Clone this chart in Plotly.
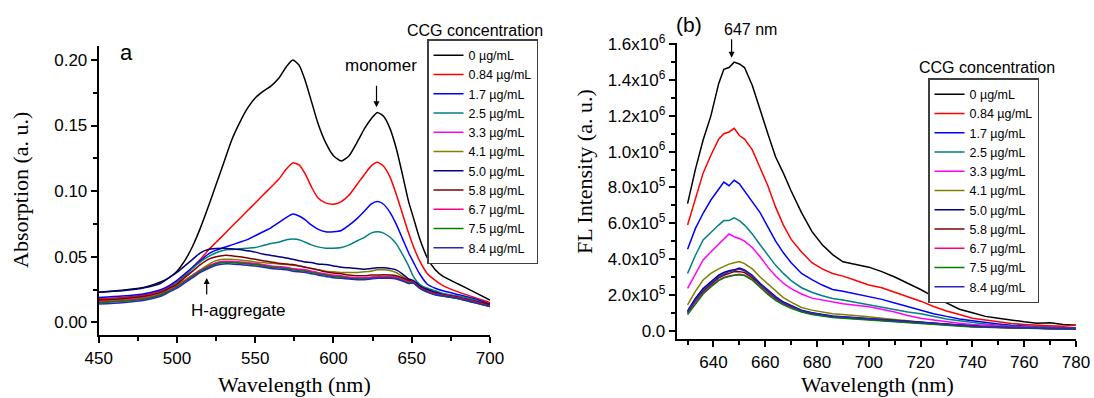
import plotly.graph_objects as go

# ---------------- data ----------------
labels = ["0 µg/mL", "0.84 µg/mL", "1.7 µg/mL", "2.5 µg/mL", "3.3 µg/mL", "4.1 µg/mL",
          "5.0 µg/mL", "5.8 µg/mL", "6.7 µg/mL", "7.5 µg/mL", "8.4 µg/mL"]
colors = ["#000000", "#FF0000", "#0000FF", "#008080", "#FF00FF", "#808000",
          "#000080", "#800000", "#FF0080", "#008000", "#2828B8"]

wl_abs = [450, 465, 480, 490, 495, 500, 505, 510, 515, 520, 525, 530, 535, 540, 545, 550,
          555, 560, 565, 570, 574, 578, 582, 586, 590, 595, 600, 605, 610, 615, 620, 624,
          628, 632, 636, 640, 644, 648, 651, 655, 660, 665, 670, 680, 690, 700]

abs_0 = [.023, .0245, .027, .031, .034, .039, .047, .058, .072, .088, .105, .122, .139, .152, .163, .171,
         .176, .180, .186, .195, .200, .196, .184, .168, .152, .137, .127, .123, .127, .137, .148, .155,
         .160, .157, .148, .133, .113, .092, .080, .064, .049, .040, .035, .029, .023, .017]
abs_084 = [.018, .019, .021, .024, .027, .031, .036, .042, .048, .055, .061, .067, .073, .079, .085, .091,
           .097, .103, .109, .117, .1215, .120, .113, .103, .095, .091, .090, .092, .097, .105, .113, .119,
           .122, .119, .111, .098, .083, .068, .058, .047, .037, .032, .028, .023, .019, .015]
abs_17 = [.019, .020, .022, .025, .028, .032, .037, .042, .047, .052, .055, .057, .059, .061, .063, .066,
          .069, .072, .076, .080, .0825, .081, .078, .074, .071, .069, .069, .070, .074, .079, .085, .090,
          .092, .090, .084, .075, .064, .053, .046, .037, .029, .026, .024, .021, .018, .014]
abs_25 = [.017, .018, .020, .023, .026, .030, .035, .041, .046, .050, .053, .055, .0555, .056, .0565, .057,
          .0585, .060, .061, .063, .0635, .063, .061, .059, .0575, .0565, .0565, .057, .059, .062, .065, .068,
          .069, .068, .065, .060, .052, .043, .035, .029, .026, .024, .022, .020, .017, .013]
abs_33 = [.016, .017, .019, .022, .025, .028, .032, .036, .040, .043, .0455, .0465, .0465, .046, .0455, .045,
          .044, .043, .0425, .042, .041, .0405, .040, .039, .038, .037, .036, .0355, .0345, .034, .034, .0345,
          .035, .035, .035, .0345, .033, .031, .031, .027, .024, .022, .021, .019, .016, .013]
abs_41 = [.016, .017, .019, .022, .025, .028, .032, .036, .040, .044, .047, .048, .048, .0475, .047, .046,
          .0455, .045, .0445, .044, .0435, .043, .042, .041, .040, .039, .0385, .038, .038, .038, .0385, .039,
          .040, .040, .0395, .038, .035, .032, .031, .027, .024, .022, .020, .018, .015, .012]
abs_50 = [.023, .024, .0265, .030, .034, .038, .043, .048, .053, .0555, .0562, .0565, .056, .0555, .0545, .0535,
          .052, .051, .050, .049, .048, .047, .046, .0455, .0445, .044, .043, .042, .0415, .041, .0405, .041,
          .0415, .0415, .041, .040, .037, .033, .032, .028, .025, .023, .021, .019, .016, .013]
abs_58 = [.017, .018, .020, .023, .026, .029, .034, .039, .044, .048, .050, .051, .0508, .050, .049, .048,
          .047, .046, .045, .0445, .044, .043, .042, .041, .040, .0385, .0375, .037, .036, .0355, .0355, .036,
          .036, .0362, .036, .0355, .034, .032, .031, .027, .024, .022, .021, .019, .016, .014]
abs_67 = [.0155, .0165, .0185, .0215, .0245, .0275, .0315, .0355, .0395, .0425, .045, .046, .046, .0455, .045, .0445,
          .0435, .0425, .042, .0415, .0405, .040, .0395, .0385, .0375, .0365, .0355, .035, .034, .0335, .0335, .034,
          .0345, .0345, .0345, .034, .0325, .0305, .0305, .0265, .0235, .0215, .0205, .0185, .0155, .0125]
abs_75 = [.015, .016, .018, .021, .024, .027, .031, .035, .039, .042, .0445, .0455, .0455, .045, .0445, .044,
          .043, .042, .0415, .041, .040, .0395, .039, .038, .037, .036, .035, .0345, .0335, .033, .033, .0335,
          .034, .034, .034, .0335, .032, .030, .030, .026, .023, .021, .020, .018, .015, .012]
abs_84 = [.014, .015, .017, .020, .023, .026, .030, .034, .038, .041, .0435, .0445, .0445, .044, .0435, .043,
          .042, .041, .0405, .040, .039, .0385, .038, .037, .036, .035, .034, .0335, .033, .0325, .0325, .033,
          .0335, .0335, .0335, .033, .0315, .0295, .030, .026, .023, .021, .020, .018, .015, .012]

wl_fl = [630, 633, 636, 639, 642, 644, 646, 648, 650, 652, 655, 658, 661, 664, 667, 670, 674, 678, 682,
         686, 690, 695, 700, 705, 710, 715, 720, 725, 730, 735, 740, 745, 750, 755, 760, 765, 770, 775, 780]

fl_0 = [7.1e5, 9.0e5, 1.065e6, 1.20e6, 1.38e6, 1.46e6, 1.47e6, 1.50e6, 1.49e6, 1.47e6, 1.37e6, 1.23e6, 1.10e6,
        9.7e5, 8.8e5, 7.8e5, 6.6e5, 5.55e5, 4.8e5, 4.25e5, 3.85e5, 3.7e5, 3.55e5, 3.3e5, 3.0e5, 2.65e5, 2.3e5,
        1.9e5, 1.55e5, 1.2e5, 1.0e5, 8.0e4, 7.0e4, 5.8e4, 5.0e4, 4.2e4, 4.5e4, 3.5e4, 3.0e4]
fl_084 = [5.9e5, 7.4e5, 8.8e5, 9.8e5, 1.07e6, 1.10e6, 1.11e6, 1.13e6, 1.09e6, 1.07e6, 1.01e6, 9.1e5, 8.1e5,
          6.9e5, 5.9e5, 5.1e5, 4.4e5, 3.8e5, 3.45e5, 3.2e5, 3.05e5, 2.8e5, 2.55e5, 2.4e5, 2.15e5, 1.9e5, 1.65e5,
          1.35e5, 1.1e5, 9.0e4, 7.0e4, 6.0e4, 5.0e4, 4.0e4, 3.5e4, 3.0e4, 2.8e4, 2.5e4, 3.0e4]
fl_17 = [4.55e5, 5.7e5, 6.56e5, 7.3e5, 7.9e5, 8.3e5, 8.1e5, 8.4e5, 8.2e5, 7.8e5, 7.2e5, 6.6e5, 5.8e5,
         5.0e5, 4.35e5, 3.8e5, 3.2e5, 2.85e5, 2.55e5, 2.3e5, 2.2e5, 2.05e5, 1.9e5, 1.75e5, 1.55e5, 1.35e5, 1.15e5,
         9.5e4, 8.0e4, 6.5e4, 5.5e4, 4.5e4, 3.8e4, 3.0e4, 2.5e4, 2.2e4, 2.0e4, 1.8e4, 1.5e4]
fl_25 = [3.2e5, 4.2e5, 5.07e5, 5.5e5, 5.9e5, 6.15e5, 6.15e5, 6.3e5, 6.15e5, 5.9e5, 5.4e5, 4.8e5, 4.25e5,
         3.65e5, 3.2e5, 2.8e5, 2.4e5, 2.15e5, 1.95e5, 1.8e5, 1.72e5, 1.58e5, 1.44e5, 1.3e5, 1.18e5, 1.05e5, 9.5e4,
         8.0e4, 6.5e4, 5.5e4, 4.5e4, 3.8e4, 3.0e4, 2.5e4, 2.2e4, 2.0e4, 1.8e4, 1.5e4, 1.5e4]
fl_33 = [2.37e5, 3.2e5, 3.95e5, 4.4e5, 4.85e5, 5.1e5, 5.4e5, 5.25e5, 5.15e5, 5.0e5, 4.65e5, 4.13e5, 3.55e5,
         3.05e5, 2.65e5, 2.35e5, 2.05e5, 1.82e5, 1.7e5, 1.6e5, 1.5e5, 1.42e5, 1.34e5, 1.2e5, 1.05e5, 8.5e4, 7.0e4,
         6.0e4, 5.0e4, 4.2e4, 3.5e4, 3.0e4, 2.5e4, 2.2e4, 2.0e4, 1.8e4, 1.5e4, 1.3e4, 1.2e4]
fl_41 = [1.44e5, 2.2e5, 2.83e5, 3.2e5, 3.45e5, 3.6e5, 3.72e5, 3.8e5, 3.86e5, 3.75e5, 3.45e5, 3.0e5, 2.6e5,
         2.2e5, 1.85e5, 1.6e5, 1.3e5, 1.15e5, 1.05e5, 9.5e4, 9.0e4, 8.5e4, 7.8e4, 7.0e4, 6.2e4, 5.5e4, 4.8e4,
         4.2e4, 3.6e4, 3.0e4, 2.6e4, 2.2e4, 2.0e4, 1.7e4, 1.5e4, 1.4e4, 1.3e4, 1.2e4, 1.1e4]
fl_50 = [1.1e5, 1.8e5, 2.35e5, 2.75e5, 3.1e5, 3.25e5, 3.35e5, 3.4e5, 3.5e5, 3.4e5, 3.1e5, 2.65e5, 2.25e5,
         1.9e5, 1.6e5, 1.4e5, 1.15e5, 1.0e5, 9.0e4, 8.2e4, 7.8e4, 7.3e4, 6.8e4, 6.2e4, 5.6e4, 5.0e4, 4.4e4,
         3.9e4, 3.4e4, 2.9e4, 2.5e4, 2.2e4, 2.0e4, 1.7e4, 1.5e4, 1.4e4, 1.3e4, 1.2e4, 1.2e4]
fl_58 = [1.0e5, 1.65e5, 2.2e5, 2.6e5, 2.95e5, 3.1e5, 3.2e5, 3.3e5, 3.3e5, 3.25e5, 2.95e5, 2.55e5, 2.15e5,
         1.8e5, 1.52e5, 1.32e5, 1.1e5, 9.6e4, 8.6e4, 7.8e4, 7.4e4, 6.9e4, 6.4e4, 5.8e4, 5.3e4, 4.7e4, 4.1e4,
         3.6e4, 3.2e4, 2.8e4, 2.4e4, 2.1e4, 1.9e4, 1.6e4, 1.4e4, 1.3e4, 1.2e4, 1.1e4, 1.1e4]
fl_67 = [9.5e4, 1.6e5, 2.1e5, 2.5e5, 2.82e5, 2.97e5, 3.05e5, 3.12e5, 3.15e5, 3.1e5, 2.85e5, 2.45e5, 2.07e5,
         1.73e5, 1.47e5, 1.28e5, 1.07e5, 9.3e4, 8.3e4, 7.6e4, 7.2e4, 6.7e4, 6.2e4, 5.7e4, 5.2e4, 4.6e4, 4.0e4,
         3.5e4, 3.1e4, 2.7e4, 2.3e4, 2.0e4, 1.8e4, 1.6e4, 1.4e4, 1.3e4, 1.2e4, 1.1e4, 1.0e4]
fl_75 = [9.0e4, 1.5e5, 2.05e5, 2.45e5, 2.8e5, 2.95e5, 3.02e5, 3.1e5, 3.12e5, 3.08e5, 2.82e5, 2.42e5, 2.03e5,
         1.7e5, 1.44e5, 1.25e5, 1.05e5, 9.1e4, 8.1e4, 7.4e4, 7.0e4, 6.5e4, 6.0e4, 5.5e4, 5.0e4, 4.4e4, 3.8e4,
         3.3e4, 2.9e4, 2.5e4, 2.1e4, 1.9e4, 1.7e4, 1.5e4, 1.3e4, 1.2e4, 1.1e4, 1.0e4, 1.0e4]
fl_84 = [1.05e5, 1.7e5, 2.25e5, 2.65e5, 3.0e5, 3.15e5, 3.3e5, 3.35e5, 3.45e5, 3.35e5, 3.05e5, 2.6e5, 2.2e5,
         1.85e5, 1.56e5, 1.36e5, 1.12e5, 9.8e4, 8.8e4, 8.0e4, 7.6e4, 7.1e4, 6.6e4, 6.0e4, 5.5e4, 4.9e4, 4.3e4,
         3.8e4, 3.3e4, 2.8e4, 2.4e4, 2.1e4, 1.9e4, 1.6e4, 1.5e4, 1.4e4, 1.3e4, 1.2e4, 1.1e4]

abs_series = [abs_0, abs_084, abs_17, abs_25, abs_33, abs_41, abs_50, abs_58, abs_67, abs_75, abs_84]
fl_series = [fl_0, fl_084, fl_17, fl_25, fl_33, fl_41, fl_50, fl_58, fl_67, fl_75, fl_84]

fl_tickvals = [0, 2e5, 4e5, 6e5, 8e5, 1e6, 1.2e6, 1.4e6, 1.6e6]
fl_ticktext = ["0.0", "2.0x10<sup>5</sup>", "4.0x10<sup>5</sup>", "6.0x10<sup>5</sup>", "8.0x10<sup>5</sup>",
               "1.0x10<sup>6</sup>", "1.2x10<sup>6</sup>", "1.4x10<sup>6</sup>", "1.6x10<sup>6</sup>"]

# ---------------- figure ----------------
W, H = 1094, 398
SANS = "Liberation Sans, Arial, sans-serif"
SERIF = "Liberation Serif, Times New Roman, serif"


def px(x):
    return x / W


def py(y):
    return 1 - y / H


fig = go.Figure()
for lab, col, ys in zip(labels, colors, abs_series):
    fig.add_trace(go.Scatter(x=wl_abs, y=ys, mode="lines", name=lab, xaxis="x", yaxis="y",
                             line=dict(color=col, width=1.5, shape="spline", smoothing=0.6),
                             legend="legend"))
for lab, col, ys in zip(labels, colors, fl_series):
    fig.add_trace(go.Scatter(x=wl_fl, y=ys, mode="lines", name=lab, xaxis="x2", yaxis="y2",
                             line=dict(color=col, width=1.5), legend="legend2"))

axis_common = dict(showline=True, linecolor="black", linewidth=2, ticks="outside", ticklen=6,
                   tickwidth=1.5, tickcolor="black", showgrid=False, zeroline=False,
                   tickfont=dict(family=SANS, size=17, color="black"), automargin=False,
                   mirror=False)

leg_common = dict(xanchor="left", yanchor="top", bgcolor="white", bordercolor="#404040",
                  borderwidth=1.5, tracegroupgap=0, font=dict(family=SANS, size=12.5, color="black"))

fig.update_layout(
    width=W, height=H, margin=dict(l=0, r=0, t=0, b=0),
    paper_bgcolor="white", plot_bgcolor="white",
    xaxis=dict(domain=[px(98.7), px(490)], range=[450, 700], anchor="y", tickvals=[450, 500, 550, 600, 650, 700],
               minor=dict(tickmode="linear", tick0=450, dtick=25, ticks="outside", ticklen=3.5, tickwidth=1.5,
                          tickcolor="black"), **axis_common),
    yaxis=dict(domain=[py(335.3), py(46)], range=[-0.0099, 0.2106], anchor="x",
               tickvals=[0, 0.05, 0.1, 0.15, 0.2], ticktext=["0.00", "0.05", "0.10", "0.15", "0.20"],
               minor=dict(tickmode="linear", tick0=0, dtick=0.025, ticks="outside", ticklen=3.5, tickwidth=1.5,
                          tickcolor="black"), **axis_common),
    xaxis2=dict(domain=[px(676.7), px(1076)], range=[625.8, 780], anchor="y2",
                tickvals=[640, 660, 680, 700, 720, 740, 760, 780],
                minor=dict(tickmode="linear", tick0=630, dtick=10, ticks="outside", ticklen=3.5, tickwidth=1.5,
                           tickcolor="black"), **axis_common),
    yaxis2=dict(domain=[py(339.3), py(43)], range=[-4.8e4, 1.607e6], anchor="x2",
                tickvals=fl_tickvals, ticktext=fl_ticktext,
                minor=dict(tickmode="linear", tick0=0, dtick=1e5, ticks="outside", ticklen=3.5, tickwidth=1.5,
                           tickcolor="black"), **axis_common),
    legend=dict(x=px(427), y=py(39), **leg_common),
    legend2=dict(x=px(928), y=py(78), **leg_common),
    showlegend=True,
)

ann = []


def text(x, y, s, size, family=SANS, angle=0):
    ann.append(dict(x=px(x), y=py(y), xref="paper", yref="paper", text=s, showarrow=False,
                    font=dict(family=family, size=size, color="black"), textangle=angle,
                    xanchor="center", yanchor="middle"))


# axis titles
text(294, 384, "Wavelength (nm)", 22, SERIF)
text(877, 384, "Wavelength (nm)", 22, SERIF)
text(21, 190, "Absorption (a. u.)", 22, SERIF, -90)
text(584, 172, "FL Intensity (a. u.)", 22, SERIF, -90)
# panel labels and notes
text(126, 52, "a", 22)
text(689, 24, "(b)", 21)
text(750, 30, "647 nm", 16)
text(381, 66, "monomer", 17)
text(238, 310, "H-aggregate", 17)
text(475, 31, "CCG concentration", 16)
text(987, 67, "CCG concentration", 16)

# arrows (data coordinates)
ann.append(dict(x=627.5, y=0.164, xref="x", yref="y", ax=0, ay=-23, text="", showarrow=True,
                arrowhead=2, arrowsize=1, arrowwidth=1.2, arrowcolor="black"))
ann.append(dict(x=519, y=0.0338, xref="x", yref="y", ax=0, ay=18, text="", showarrow=True,
                arrowhead=2, arrowsize=1, arrowwidth=1.2, arrowcolor="black"))
ann.append(dict(x=647, y=1.525e6, xref="x2", yref="y2", ax=0, ay=-20, text="", showarrow=True,
                arrowhead=2, arrowsize=1, arrowwidth=1.2, arrowcolor="black"))

fig.update_layout(annotations=ann)
fig.write_html("out.html")
